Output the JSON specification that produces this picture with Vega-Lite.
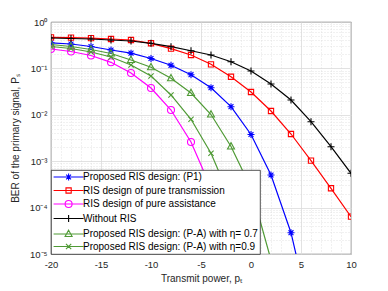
{
  "$schema": "https://vega.github.io/schema/vega-lite/v6.json",
  "width": 300,
  "height": 232,
  "autosize": "none",
  "padding": {"left": 51, "top": 22, "right": 37, "bottom": 37},
  "background": "white",
  "config": {
    "font": "Liberation Sans",
    "view": {"stroke": "#262626", "strokeWidth": 0.8},
    "point": {"filled": false, "size": 49, "strokeWidth": 1.1, "opacity": 1},
    "legend": {
      "orient": "bottom-left",
      "offset": 0,
      "fillColor": "white",
      "strokeColor": "#262626",
      "strokeWidth": 0.8,
      "padding": 2,
      "cornerRadius": 0,
      "labelFont": "Liberation Sans",
      "labelFontSize": 10,
      "labelColor": "#000000",
      "labelLimit": 300,
      "labelOffset": 20,
      "symbolSize": 49,
      "symbolStrokeWidth": 1.1,
      "rowPadding": 2.5
    }
  },
  "data": {
    "values": [
      {"series": "Proposed RIS design: (P1)", "power": -20, "ber": 0.3565},
      {"series": "Proposed RIS design: (P1)", "power": -18, "ber": 0.3357},
      {"series": "Proposed RIS design: (P1)", "power": -16, "ber": 0.2965},
      {"series": "Proposed RIS design: (P1)", "power": -14, "ber": 0.2495},
      {"series": "Proposed RIS design: (P1)", "power": -12, "ber": 0.2128},
      {"series": "Proposed RIS design: (P1)", "power": -10, "ber": 0.1633},
      {"series": "Proposed RIS design: (P1)", "power": -8, "ber": 0.1167},
      {"series": "Proposed RIS design: (P1)", "power": -6, "ber": 0.07311},
      {"series": "Proposed RIS design: (P1)", "power": -4, "ber": 0.03837},
      {"series": "Proposed RIS design: (P1)", "power": -2, "ber": 0.01496},
      {"series": "Proposed RIS design: (P1)", "power": 0, "ber": 0.003758},
      {"series": "Proposed RIS design: (P1)", "power": 2, "ber": 0.0005047},
      {"series": "Proposed RIS design: (P1)", "power": 4, "ber": 0.00002877},
      {"series": "Proposed RIS design: (P1)", "power": 6, "ber": 0.000000398},
      {"series": "RIS design of pure transmission", "power": -20, "ber": 0.4677},
      {"series": "RIS design of pure transmission", "power": -18, "ber": 0.4613},
      {"series": "RIS design of pure transmission", "power": -16, "ber": 0.4477},
      {"series": "RIS design of pure transmission", "power": -14, "ber": 0.4305},
      {"series": "RIS design of pure transmission", "power": -12, "ber": 0.4093},
      {"series": "RIS design of pure transmission", "power": -10, "ber": 0.3475},
      {"series": "RIS design of pure transmission", "power": -8, "ber": 0.2661},
      {"series": "RIS design of pure transmission", "power": -6, "ber": 0.1945},
      {"series": "RIS design of pure transmission", "power": -4, "ber": 0.1225},
      {"series": "RIS design of pure transmission", "power": -2, "ber": 0.0662},
      {"series": "RIS design of pure transmission", "power": 0, "ber": 0.03097},
      {"series": "RIS design of pure transmission", "power": 2, "ber": 0.01208},
      {"series": "RIS design of pure transmission", "power": 4, "ber": 0.003855},
      {"series": "RIS design of pure transmission", "power": 6, "ber": 0.001026},
      {"series": "RIS design of pure transmission", "power": 8, "ber": 0.0002606},
      {"series": "RIS design of pure transmission", "power": 10, "ber": 0.00006368},
      {"series": "RIS design of pure assistance", "power": -20, "ber": 0.2618},
      {"series": "RIS design of pure assistance", "power": -18, "ber": 0.2312},
      {"series": "RIS design of pure assistance", "power": -16, "ber": 0.1897},
      {"series": "RIS design of pure assistance", "power": -14, "ber": 0.1352},
      {"series": "RIS design of pure assistance", "power": -12, "ber": 0.0796},
      {"series": "RIS design of pure assistance", "power": -10, "ber": 0.03784},
      {"series": "RIS design of pure assistance", "power": -8, "ber": 0.01268},
      {"series": "RIS design of pure assistance", "power": -6, "ber": 0.002594},
      {"series": "RIS design of pure assistance", "power": -4, "ber": 0.0002642},
      {"series": "RIS design of pure assistance", "power": -2, "ber": 0.00000741},
      {"series": "Without RIS", "power": -20, "ber": 0.4519},
      {"series": "Without RIS", "power": -18, "ber": 0.4406},
      {"series": "Without RIS", "power": -16, "ber": 0.4305},
      {"series": "Without RIS", "power": -14, "ber": 0.4093},
      {"series": "Without RIS", "power": -12, "ber": 0.3899},
      {"series": "Without RIS", "power": -10, "ber": 0.3475},
      {"series": "Without RIS", "power": -8, "ber": 0.2938},
      {"series": "Without RIS", "power": -6, "ber": 0.2404},
      {"series": "Without RIS", "power": -4, "ber": 0.1945},
      {"series": "Without RIS", "power": -2, "ber": 0.1393},
      {"series": "Without RIS", "power": 0, "ber": 0.0879},
      {"series": "Without RIS", "power": 2, "ber": 0.04613},
      {"series": "Without RIS", "power": 4, "ber": 0.02084},
      {"series": "Without RIS", "power": 6, "ber": 0.007096},
      {"series": "Without RIS", "power": 8, "ber": 0.002056},
      {"series": "Without RIS", "power": 10, "ber": 0.000548},
      {"series": "Proposed RIS design: (P-A) with η= 0.7", "power": -20, "ber": 0.3273},
      {"series": "Proposed RIS design: (P-A) with η= 0.7", "power": -18, "ber": 0.2965},
      {"series": "Proposed RIS design: (P-A) with η= 0.7", "power": -16, "ber": 0.2553},
      {"series": "Proposed RIS design: (P-A) with η= 0.7", "power": -14, "ber": 0.2094},
      {"series": "Proposed RIS design: (P-A) with η= 0.7", "power": -12, "ber": 0.1517},
      {"series": "Proposed RIS design: (P-A) with η= 0.7", "power": -10, "ber": 0.1057},
      {"series": "Proposed RIS design: (P-A) with η= 0.7", "power": -8, "ber": 0.06124},
      {"series": "Proposed RIS design: (P-A) with η= 0.7", "power": -6, "ber": 0.02951},
      {"series": "Proposed RIS design: (P-A) with η= 0.7", "power": -4, "ber": 0.01014},
      {"series": "Proposed RIS design: (P-A) with η= 0.7", "power": -2, "ber": 0.002075},
      {"series": "Proposed RIS design: (P-A) with η= 0.7", "power": 0, "ber": 0.0002642},
      {"series": "Proposed RIS design: (P-A) with η= 0.7", "power": 2, "ber": 0.00000743},
      {"series": "Proposed RIS design: (P-A) with η=0.9", "power": -20, "ber": 0.2965},
      {"series": "Proposed RIS design: (P-A) with η=0.9", "power": -18, "ber": 0.2685},
      {"series": "Proposed RIS design: (P-A) with η=0.9", "power": -16, "ber": 0.2254},
      {"series": "Proposed RIS design: (P-A) with η=0.9", "power": -14, "ber": 0.1762},
      {"series": "Proposed RIS design: (P-A) with η=0.9", "power": -12, "ber": 0.1183},
      {"series": "Proposed RIS design: (P-A) with η=0.9", "power": -10, "ber": 0.06855},
      {"series": "Proposed RIS design: (P-A) with η=0.9", "power": -8, "ber": 0.02673},
      {"series": "Proposed RIS design: (P-A) with η=0.9", "power": -6, "ber": 0.007998},
      {"series": "Proposed RIS design: (P-A) with η=0.9", "power": -4, "ber": 0.001479},
      {"series": "Proposed RIS design: (P-A) with η=0.9", "power": -2, "ber": 0.0001459},
      {"series": "Proposed RIS design: (P-A) with η=0.9", "power": 0, "ber": 0.00000452}
    ]
  },
  "encoding": {
    "x": {
      "field": "power",
      "type": "quantitative",
      "scale": {"domain": [-20, 10], "nice": false, "zero": false},
      "axis": {
        "title": "Transmit power, pₜ",
        "values": [-20,-19,-18,-17,-16,-15,-14,-13,-12,-11,-10,-9,-8,-7,-6,-5,-4,-3,-2,-1,0,1,2,3,4,5,6,7,8,9,10],
        "labelExpr": "datum.value % 5 === 0 ? '' + datum.value : ''",
        "labelOverlap": false,
        "labelFlush": false,
        "ticks": false,
        "domain": false,
        "gridColor": "#dadada",
        "gridWidth": 0.8,
        "gridDash": {"condition": {"test": "datum.value % 5 !== 0", "value": [1, 2]}, "value": []},
        "labelFont": "Liberation Sans",
        "labelFontSize": 9.5,
        "labelColor": "#262626",
        "labelPadding": 5,
        "titleFont": "Liberation Sans",
        "titleFontSize": 10,
        "titleFontWeight": "normal",
        "titleColor": "#262626",
        "titlePadding": 5
      }
    },
    "y": {
      "field": "ber",
      "type": "quantitative",
      "scale": {"type": "log", "domain": [0.00001, 1], "nice": false},
      "axis": {
        "title": "BER of the primary signal, Pₛ",
        "values": [0.00001,0.00002,0.00003,0.00004,0.00005,0.00006,0.00007,0.00008,0.00009,0.0001,0.0002,0.0003,0.0004,0.0005,0.0006,0.0007,0.0008,0.0009,0.001,0.002,0.003,0.004,0.005,0.006,0.007,0.008,0.009,0.01,0.02,0.03,0.04,0.05,0.06,0.07,0.08,0.09,0.1,0.2,0.3,0.4,0.5,0.6,0.7,0.8,0.9,1],
        "labelExpr": "datum.value===1?'10⁰':datum.value===0.1?'10⁻¹':datum.value===0.01?'10⁻²':datum.value===0.001?'10⁻³':datum.value===0.0001?'10⁻⁴':datum.value===0.00001?'10⁻⁵':''",
        "labelOverlap": false,
        "labelFlush": false,
        "ticks": false,
        "domain": false,
        "gridColor": "#dadada",
        "gridWidth": 0.8,
        "gridDash": {"condition": {"test": "indexof([1,0.1,0.01,0.001,0.0001,0.00001], datum.value) < 0", "value": [1, 2]}, "value": []},
        "labelFont": "Liberation Sans",
        "labelFontSize": 9.5,
        "labelColor": "#262626",
        "labelPadding": 4,
        "titleFont": "Liberation Sans",
        "titleFontSize": 10,
        "titleFontWeight": "normal",
        "titleColor": "#262626",
        "titlePadding": 9
      }
    },
    "color": {
      "field": "series",
      "type": "nominal",
      "scale": {
        "domain": ["Proposed RIS design: (P1)", "RIS design of pure transmission", "RIS design of pure assistance", "Without RIS", "Proposed RIS design: (P-A) with η= 0.7", "Proposed RIS design: (P-A) with η=0.9"],
        "range": ["#0000ff", "#ff0000", "#ff00ff", "#000000", "#4f9a35", "#4f9a35"]
      },
      "legend": {
        "title": null,
        "encode": {
          "symbols": {
            "update": {
              "shape": {"signal": "['M-1.26,0H7.31M2.03,0H4.03M3.03,-1V1M2.33,-0.7L3.73,0.7M2.33,0.7L3.73,-0.7','M-1.26,0H7.31M2.28,-0.75H3.78V0.75H2.28Z','M-1.26,0H7.31M4.03,0A1,1,0,1,1,2.03,0A1,1,0,1,1,4.03,0Z','M-1.26,0H7.31M2.03,0H4.03M3.03,-1V1','M-1.26,0H7.31M3.03,-1.1L4.03,0.7H2.03Z','M-1.26,0H7.31M2.28,-0.75L3.78,0.75M2.28,0.75L3.78,-0.75'][datum.index]"},
              "fill": {"value": "transparent"}
            }
          }
        }
      }
    }
  },
  "layer": [
    {"mark": {"type": "line", "clip": true, "strokeWidth": 1.2}},
    {"transform": [{"filter": "datum.series === 'Proposed RIS design: (P1)'"}], "mark": {"type": "point", "clip": true, "shape": "M-1,0H1M0,-1V1M-0.7,-0.7L0.7,0.7M-0.7,0.7L0.7,-0.7"}},
    {"transform": [{"filter": "datum.series === 'RIS design of pure transmission'"}], "mark": {"type": "point", "clip": true, "shape": "M-0.75,-0.75H0.75V0.75H-0.75Z"}},
    {"transform": [{"filter": "datum.series === 'RIS design of pure assistance'"}], "mark": {"type": "point", "clip": true, "shape": "M1,0A1,1,0,1,1,-1,0A1,1,0,1,1,1,0Z"}},
    {"transform": [{"filter": "datum.series === 'Without RIS'"}], "mark": {"type": "point", "clip": true, "shape": "M-1,0H1M0,-1V1"}},
    {"transform": [{"filter": "datum.series === 'Proposed RIS design: (P-A) with η= 0.7'"}], "mark": {"type": "point", "clip": true, "shape": "M0,-1.1L1,0.7H-1Z"}},
    {"transform": [{"filter": "datum.series === 'Proposed RIS design: (P-A) with η=0.9'"}], "mark": {"type": "point", "clip": true, "shape": "M-0.75,-0.75L0.75,0.75M-0.75,0.75L0.75,-0.75"}}
  ]
}
